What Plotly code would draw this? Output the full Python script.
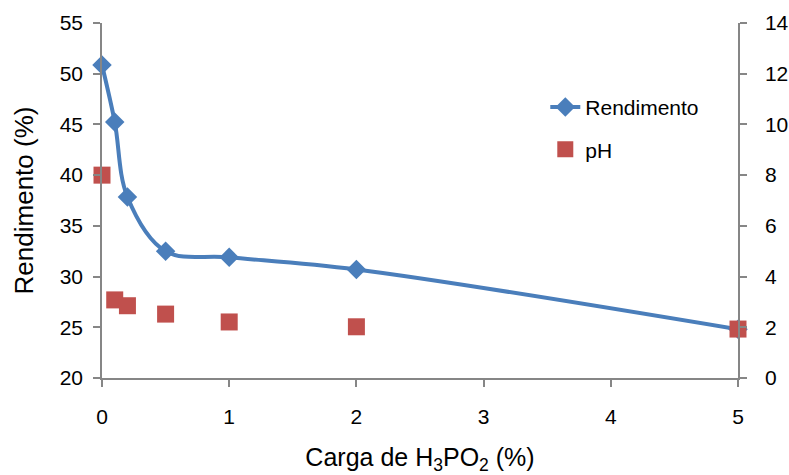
import plotly.graph_objects as go

carga = [0, 0.1, 0.2, 0.5, 1, 2, 5]
rendimento = [50.85, 45.25, 37.85, 32.5, 31.9, 30.7, 24.8]
ph = [8.0, 3.08, 2.85, 2.52, 2.21, 2.02, 1.93]

blue = "#4A7EBB"
red = "#C0504D"
axis_col = "#868686"
font = "Liberation Sans, Arial, sans-serif"

fig = go.Figure()
fig.add_trace(go.Scatter(
    x=carga, y=rendimento, name="Rendimento", mode="lines+markers",
    legendgroup="a", cliponaxis=False,
    line=dict(color=blue, width=4, shape="spline", smoothing=1),
    marker=dict(symbol="diamond", size=15, color=blue),
))
fig.add_trace(go.Scatter(
    x=carga, y=ph, name="pH", mode="markers", yaxis="y2",
    legendgroup="b", cliponaxis=False,
    marker=dict(symbol="square", size=17, color=red),
))

fig.update_layout(
    width=789, height=475,
    margin=dict(l=102, r=51, t=23, b=97, autoexpand=False),
    paper_bgcolor="white", plot_bgcolor="white",
    font=dict(family=font, size=21, color="black"),
    showlegend=True,
    legend=dict(x=0.697, y=0.82, xanchor="left", yanchor="top",
                bgcolor="rgba(0,0,0,0)", font=dict(size=21), tracegroupgap=12,
                itemwidth=30),
    xaxis=dict(range=[0, 5], tickvals=[0, 1, 2, 3, 4, 5], showgrid=False,
               automargin=False,
               zeroline=False, showline=True, linecolor=axis_col, linewidth=1.5,
               ticks="outside", tickcolor=axis_col, ticklen=7, tickwidth=1.5,
               tickfont=dict(size=21), ticklabelstandoff=12,
               title=dict(text="Carga de H<sub>3</sub>PO<sub>2</sub> (%)",
                          font=dict(size=25), standoff=26)),
    yaxis=dict(range=[20, 55], dtick=5, showgrid=False, zeroline=False,
               automargin=False,
               showline=True, linecolor=axis_col, linewidth=1.5,
               ticks="outside", tickcolor=axis_col, ticklen=7, tickwidth=1.5,
               tickfont=dict(size=21), ticklabelstandoff=6,
               title=dict(text="Rendimento (%)", font=dict(size=26), standoff=19)),
    yaxis2=dict(range=[0, 14], dtick=2, overlaying="y", side="right",
                automargin=False,
                showgrid=False, zeroline=False, showline=True, linecolor=axis_col,
                linewidth=1.5, ticks="outside", tickcolor=axis_col, ticklen=7,
                tickwidth=1.5, tickfont=dict(size=21), ticklabelstandoff=14),
)

fig.write_html("out.html")
